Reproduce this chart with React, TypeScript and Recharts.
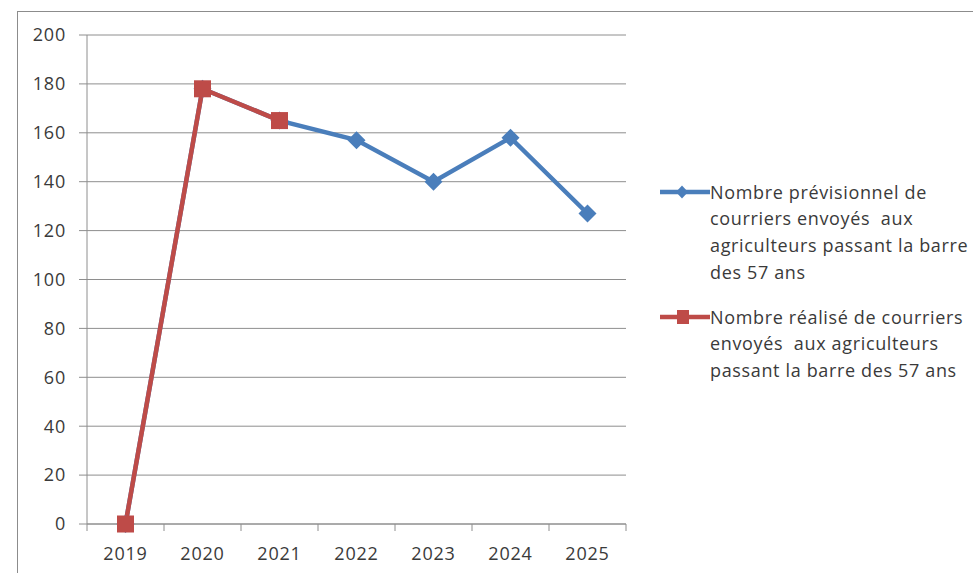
import React from 'react';
import { LineChart, Line, XAxis, YAxis, CartesianGrid, Legend } from 'recharts';

const years = ['2019', '2020', '2021', '2022', '2023', '2024', '2025'];
const previsionnel = [0, 178, 165, 157, 140, 158, 127];
const realise: (number | null)[] = [0, 178, 165, null, null, null, null];
const yTicks = [0, 20, 40, 60, 80, 100, 120, 140, 160, 180, 200];

const namePrev = 'Nombre prévisionnel de courriers envoyés  aux agriculteurs passant la barre des 57 ans';
const nameReal = 'Nombre réalisé de courriers envoyés  aux agriculteurs passant la barre des 57 ans';
const legendLinesPrev = ['Nombre prévisionnel de', 'courriers envoyés  aux', 'agriculteurs passant la barre', 'des 57 ans'];
const legendLinesReal = ['Nombre réalisé de courriers', 'envoyés  aux agriculteurs', 'passant la barre des 57 ans'];

const data = years.map((y, i) => ({ year: y, prev: previsionnel[i], real: realise[i] }));

const BLUE = '#4a7ebb';
const RED = '#be4b48';
const GRID = '#8e8e8e';
const TEXT = '#3a3a3a';
const FONT = '"Open Sans", "Liberation Sans", sans-serif';

const Diamond = (props: any) => {
  const { cx, cy, index } = props;
  if (cx == null || cy == null) return <g key={`d${index}`} />;
  const r = 9;
  return (
    <polygon
      key={`d${index}`}
      points={`${cx},${cy - r} ${cx + r},${cy} ${cx},${cy + r} ${cx - r},${cy}`}
      fill={BLUE}
    />
  );
};

const Square = (props: any) => {
  const { cx, cy, index } = props;
  if (cx == null || cy == null) return <g key={`s${index}`} />;
  const h = 8.5;
  return <rect key={`s${index}`} x={cx - h} y={cy - h} width={2 * h} height={2 * h} fill={RED} />;
};

const XTick = (props: any) => {
  const { x, y, payload } = props;
  const half = payload && typeof payload.offset === 'number' && payload.offset > 0 ? payload.offset : 38.5;
  const isLast = payload.value === years[years.length - 1];
  return (
    <g>
      <line x1={x - half} x2={x - half} y1={y} y2={y + 7} stroke={GRID} />
      {isLast && <line x1={x + half} x2={x + half} y1={y} y2={y + 7} stroke={GRID} />}
      <text x={x} y={y + 36} textAnchor="middle" fill={TEXT} fontSize={18} fontFamily={FONT} letterSpacing={0.8}>
        {payload.value}
      </text>
    </g>
  );
};

const LegendContent = () => {
  const lh = 26.67;
  const blueY = 10;
  const redY = 135;
  return (
    <svg width={315} height={215} style={{ display: 'block', overflow: 'visible' }}>
      <line x1={2} x2={52} y1={blueY} y2={blueY} stroke={BLUE} strokeWidth={4.5} />
      <polygon points={`24,${blueY - 6.5} 30,${blueY} 24,${blueY + 6.5} 18,${blueY}`} fill={BLUE} />
      {legendLinesPrev.map((t, i) => (
        <text key={`p${i}`} x={52} y={blueY + 6.5 + i * lh} fill={TEXT} fontSize={18} fontFamily={FONT} letterSpacing={0.65} style={{ whiteSpace: 'pre' }}>
          {t}
        </text>
      ))}
      <line x1={2} x2={52} y1={redY} y2={redY} stroke={RED} strokeWidth={4.5} />
      <rect x={19} y={redY - 7} width={12} height={14} fill={RED} />
      {legendLinesReal.map((t, i) => (
        <text key={`r${i}`} x={52} y={redY + 6.5 + i * lh} fill={TEXT} fontSize={18} fontFamily={FONT} letterSpacing={0.65} style={{ whiteSpace: 'pre' }}>
          {t}
        </text>
      ))}
    </svg>
  );
};

export default function App() {
  return (
    <div style={{ position: 'fixed', left: 0, top: 0, width: 973, height: 573, overflow: 'hidden', background: '#fff' }}>
      <div
        style={{
          position: 'absolute',
          left: 17,
          top: 11,
          width: 1000,
          height: 620,
          border: '1px solid #8c8c8c',
          background: '#fff',
        }}
      >
        <LineChart
          width={955}
          height={561}
          data={data}
          margin={{ top: 23, right: 32, bottom: 19, left: 19 }}
          style={{ fontFamily: FONT }}
        >
          <CartesianGrid vertical={false} stroke={GRID} strokeWidth={1} />
          <XAxis
            dataKey="year"
            scale="band"
            tick={<XTick />}
            tickLine={false}
            tickSize={0}
            tickMargin={0}
            axisLine={{ stroke: GRID }}
            height={30}
            interval={0}
          />
          <YAxis
            domain={[0, 200]}
            ticks={yTicks}
            interval={0}
            width={50}
            tickSize={8}
            tickMargin={13}
            axisLine={{ stroke: GRID }}
            tickLine={{ stroke: GRID }}
            tick={{ fill: TEXT, fontSize: 18, fontFamily: FONT, letterSpacing: 0.8 }}
          />
          <Legend
            layout="vertical"
            align="right"
            verticalAlign="top"
            content={<LegendContent />}
            wrapperStyle={{ position: 'absolute', left: 640, top: 170, width: 315, height: 215 }}
          />
          <Line
            type="linear"
            dataKey="prev"
            name={namePrev}
            stroke={BLUE}
            strokeWidth={4.5}
            dot={Diamond}
            activeDot={false}
            isAnimationActive={false}
          />
          <Line
            type="linear"
            dataKey="real"
            name={nameReal}
            stroke={RED}
            strokeWidth={4.5}
            dot={Square}
            activeDot={false}
            connectNulls={false}
            isAnimationActive={false}
          />
        </LineChart>
      </div>
    </div>
  );
}
